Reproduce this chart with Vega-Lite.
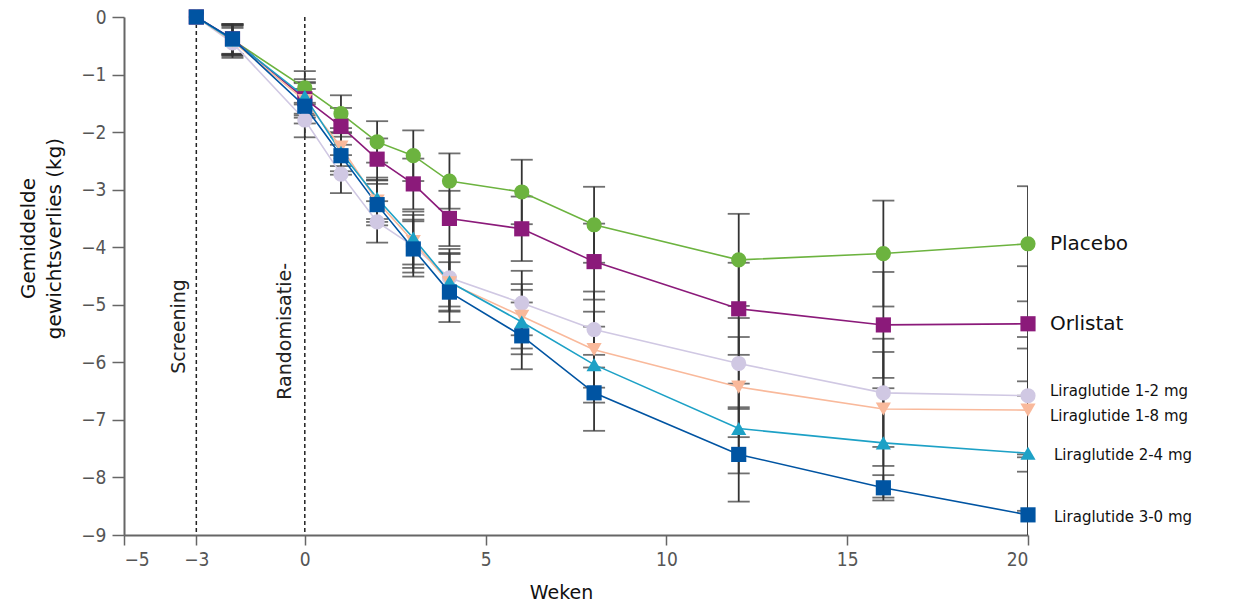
{
  "$schema": "https://vega.github.io/schema/vega-lite/v6.json",
  "autosize": "none",
  "width": 904,
  "height": 518,
  "padding": {"left": 124, "top": 17, "right": 218, "bottom": 71},
  "background": "white",
  "config": {
    "view": {"stroke": null},
    "font": "DejaVu Sans"
  },
  "datasets": {
    "main": [
      {"series": "Placebo", "week": -3, "value": 0, "err": 0},
      {"series": "Placebo", "week": -2, "value": -0.40, "err": 0.26},
      {"series": "Placebo", "week": 0, "value": -1.23, "err": 0.29},
      {"series": "Placebo", "week": 1, "value": -1.68, "err": 0.32},
      {"series": "Placebo", "week": 2, "value": -2.17, "err": 0.36},
      {"series": "Placebo", "week": 3, "value": -2.41, "err": 0.44},
      {"series": "Placebo", "week": 4, "value": -2.85, "err": 0.48},
      {"series": "Placebo", "week": 6, "value": -3.04, "err": 0.56},
      {"series": "Placebo", "week": 8, "value": -3.61, "err": 0.66},
      {"series": "Placebo", "week": 12, "value": -4.22, "err": 0.80},
      {"series": "Placebo", "week": 16, "value": -4.11, "err": 0.92},
      {"series": "Placebo", "week": 20, "value": -3.94, "err": 1.0},
      {"series": "Orlistat", "week": -3, "value": 0, "err": 0},
      {"series": "Orlistat", "week": -2, "value": -0.38, "err": 0.26},
      {"series": "Orlistat", "week": 0, "value": -1.42, "err": 0.29},
      {"series": "Orlistat", "week": 1, "value": -1.90, "err": 0.32},
      {"series": "Orlistat", "week": 2, "value": -2.47, "err": 0.36},
      {"series": "Orlistat", "week": 3, "value": -2.90, "err": 0.44},
      {"series": "Orlistat", "week": 4, "value": -3.50, "err": 0.48},
      {"series": "Orlistat", "week": 6, "value": -3.68, "err": 0.56},
      {"series": "Orlistat", "week": 8, "value": -4.25, "err": 0.66},
      {"series": "Orlistat", "week": 12, "value": -5.07, "err": 0.80},
      {"series": "Orlistat", "week": 16, "value": -5.35, "err": 0.92},
      {"series": "Orlistat", "week": 20, "value": -5.33, "err": 1.0},
      {"series": "Liraglutide 1-2 mg", "week": -3, "value": 0, "err": 0},
      {"series": "Liraglutide 1-2 mg", "week": -2, "value": -0.45, "err": 0.26},
      {"series": "Liraglutide 1-2 mg", "week": 0, "value": -1.79, "err": 0.30},
      {"series": "Liraglutide 1-2 mg", "week": 1, "value": -2.73, "err": 0.33},
      {"series": "Liraglutide 1-2 mg", "week": 2, "value": -3.56, "err": 0.36},
      {"series": "Liraglutide 1-2 mg", "week": 3, "value": -3.98, "err": 0.46},
      {"series": "Liraglutide 1-2 mg", "week": 4, "value": -4.53, "err": 0.50},
      {"series": "Liraglutide 1-2 mg", "week": 6, "value": -4.97, "err": 0.56},
      {"series": "Liraglutide 1-2 mg", "week": 8, "value": -5.43, "err": 0.66},
      {"series": "Liraglutide 1-2 mg", "week": 12, "value": -6.02, "err": 0.79},
      {"series": "Liraglutide 1-2 mg", "week": 16, "value": -6.53, "err": 0.94},
      {"series": "Liraglutide 1-2 mg", "week": 20, "value": -6.58, "err": 1.02},
      {"series": "Liraglutide 1-8 mg", "week": -3, "value": 0, "err": 0},
      {"series": "Liraglutide 1-8 mg", "week": -2, "value": -0.42, "err": 0.26},
      {"series": "Liraglutide 1-8 mg", "week": 0, "value": -1.45, "err": 0.30},
      {"series": "Liraglutide 1-8 mg", "week": 1, "value": -2.26, "err": 0.33},
      {"series": "Liraglutide 1-8 mg", "week": 2, "value": -3.20, "err": 0.36},
      {"series": "Liraglutide 1-8 mg", "week": 3, "value": -3.90, "err": 0.46},
      {"series": "Liraglutide 1-8 mg", "week": 4, "value": -4.62, "err": 0.50},
      {"series": "Liraglutide 1-8 mg", "week": 6, "value": -5.20, "err": 0.56},
      {"series": "Liraglutide 1-8 mg", "week": 8, "value": -5.78, "err": 0.66},
      {"series": "Liraglutide 1-8 mg", "week": 12, "value": -6.43, "err": 0.87},
      {"series": "Liraglutide 1-8 mg", "week": 16, "value": -6.81, "err": 0.99},
      {"series": "Liraglutide 1-8 mg", "week": 20, "value": -6.83, "err": 1.07},
      {"series": "Liraglutide 2-4 mg", "week": -3, "value": 0, "err": 0},
      {"series": "Liraglutide 2-4 mg", "week": -2, "value": -0.40, "err": 0.26},
      {"series": "Liraglutide 2-4 mg", "week": 0, "value": -1.38, "err": 0.30},
      {"series": "Liraglutide 2-4 mg", "week": 1, "value": -2.35, "err": 0.33},
      {"series": "Liraglutide 2-4 mg", "week": 2, "value": -3.15, "err": 0.36},
      {"series": "Liraglutide 2-4 mg", "week": 3, "value": -3.84, "err": 0.46},
      {"series": "Liraglutide 2-4 mg", "week": 4, "value": -4.60, "err": 0.50},
      {"series": "Liraglutide 2-4 mg", "week": 6, "value": -5.30, "err": 0.56},
      {"series": "Liraglutide 2-4 mg", "week": 8, "value": -6.04, "err": 0.66},
      {"series": "Liraglutide 2-4 mg", "week": 12, "value": -7.15, "err": 0.78},
      {"series": "Liraglutide 2-4 mg", "week": 16, "value": -7.40, "err": 0.95},
      {"series": "Liraglutide 2-4 mg", "week": 20, "value": -7.58, "err": 1.0},
      {"series": "Liraglutide 3-0 mg", "week": -3, "value": 0, "err": 0},
      {"series": "Liraglutide 3-0 mg", "week": -2, "value": -0.38, "err": 0.26},
      {"series": "Liraglutide 3-0 mg", "week": 0, "value": -1.55, "err": 0.30},
      {"series": "Liraglutide 3-0 mg", "week": 1, "value": -2.41, "err": 0.33},
      {"series": "Liraglutide 3-0 mg", "week": 2, "value": -3.26, "err": 0.36},
      {"series": "Liraglutide 3-0 mg", "week": 3, "value": -4.03, "err": 0.48},
      {"series": "Liraglutide 3-0 mg", "week": 4, "value": -4.78, "err": 0.52},
      {"series": "Liraglutide 3-0 mg", "week": 6, "value": -5.54, "err": 0.58},
      {"series": "Liraglutide 3-0 mg", "week": 8, "value": -6.53, "err": 0.66},
      {"series": "Liraglutide 3-0 mg", "week": 12, "value": -7.60, "err": 0.82},
      {"series": "Liraglutide 3-0 mg", "week": 16, "value": -8.18, "err": 0.22},
      {"series": "Liraglutide 3-0 mg", "week": 20, "value": -8.65, "err": 1.0}
    ],
    "marks": [
      {"week": -3, "label": "Screening", "pos": -3.47, "yval": -6.2},
      {"week": 0, "label": "Randomisatie-", "pos": -0.55, "yval": -6.65}
    ]
  },
  "layer": [
    {
      "data": {"name": "marks"},
      "mark": {"type": "rule", "strokeDash": [4, 3], "color": "#222", "strokeWidth": 1.5},
      "encoding": {"x": {"field": "week", "type": "quantitative"}}
    },
    {
      "data": {"name": "marks"},
      "mark": {"type": "text", "angle": 270, "align": "left", "baseline": "middle", "fontSize": 19, "color": "#222"},
      "encoding": {
        "x": {"field": "pos", "type": "quantitative"},
        "y": {"field": "yval", "type": "quantitative", "title": ["Gemiddelde", "gewichtsverlies (kg)"]},
        "text": {"field": "label"}
      }
    },
    {
      "data": {"name": "main"},
      "transform": [{"filter": "datum.err > 0"}],
      "mark": {"type": "errorbar", "clip": true, "color": "#333", "thickness": 1.8, "ticks": {"size": 22, "thickness": 1.8, "color": "#333"}},
      "encoding": {
        "x": {"field": "week", "type": "quantitative", "title": "Weken"},
        "y": {"field": "value", "type": "quantitative", "title": ["Gemiddelde", "gewichtsverlies (kg)"]},
        "yError": {"field": "err"}
      }
    },
    {
      "data": {"name": "main"},
      "mark": {"type": "line", "strokeWidth": 1.6},
      "encoding": {
        "x": {"field": "week", "type": "quantitative", "title": "Weken"},
        "y": {"field": "value", "type": "quantitative", "title": ["Gemiddelde", "gewichtsverlies (kg)"]},
        "color": {"field": "series", "type": "nominal", "legend": null,
          "scale": {"domain": ["Placebo", "Orlistat", "Liraglutide 1-2 mg", "Liraglutide 1-8 mg", "Liraglutide 2-4 mg", "Liraglutide 3-0 mg"],
                    "range": ["#6cb33f", "#8b1a7a", "#d0c8e3", "#f9b99b", "#1da1c6", "#0054a2"]}}
      }
    },
    {
      "data": {"name": "main"},
      "mark": {"type": "point", "filled": true, "opacity": 1, "size": 230},
      "encoding": {
        "x": {"field": "week", "type": "quantitative",
          "scale": {"domain": [-5, 20], "nice": false, "zero": false},
          "axis": {"values": [-5, -3, 0, 5, 10, 15, 20], "title": "Weken", "grid": false,
            "domainColor": "#666", "domainWidth": 2, "tickColor": "#666", "tickWidth": 1.5, "tickSize": 10,
            "labelFontSize": 19, "labelColor": "#555", "labelPadding": 5, "labelFont": "DejaVu Sans Condensed, DejaVu Sans",
            "titleFontSize": 19, "titleFontWeight": "normal", "titleColor": "#111", "titleX": 437, "titleY": 48, "titleFont": "DejaVu Sans"}},
        "y": {"field": "value", "type": "quantitative",
          "scale": {"domain": [-9, 0], "nice": false, "zero": false},
          "axis": {"values": [0, -1, -2, -3, -4, -5, -6, -7, -8, -9], "format": "d", "title": ["Gemiddelde", "gewichtsverlies (kg)"], "grid": false,
            "domainColor": "#666", "domainWidth": 2, "tickColor": "#666", "tickWidth": 1.5, "tickSize": 12,
            "labelFontSize": 19, "labelColor": "#555", "labelPadding": 6, "labelFont": "DejaVu Sans Condensed, DejaVu Sans",
            "titleFontSize": 20, "titleFontWeight": "normal", "titleColor": "#111", "titleLineHeight": 26,
            "titleX": -86, "titleY": 221, "titleFont": "DejaVu Sans"}},
        "color": {"field": "series", "type": "nominal", "legend": null},
        "shape": {"field": "series", "type": "nominal", "legend": null,
          "scale": {"domain": ["Placebo", "Orlistat", "Liraglutide 1-2 mg", "Liraglutide 1-8 mg", "Liraglutide 2-4 mg", "Liraglutide 3-0 mg"],
                    "range": ["circle", "square", "circle", "triangle-down", "triangle-up", "square"]}}
      }
    },
    {
      "data": {"name": "main"},
      "transform": [{"filter": "datum.week == 20 && (datum.series == 'Placebo' || datum.series == 'Orlistat')"}],
      "mark": {"type": "text", "align": "left", "baseline": "middle", "dx": 22, "fontSize": 20, "color": "#111"},
      "encoding": {
        "x": {"field": "week", "type": "quantitative"},
        "y": {"field": "value", "type": "quantitative"},
        "text": {"field": "series"}
      }
    },
    {
      "data": {"name": "main"},
      "transform": [{"filter": "datum.week == 20 && datum.series == 'Liraglutide 1-2 mg'"}],
      "mark": {"type": "text", "align": "left", "baseline": "middle", "dx": 22, "dy": -5, "fontSize": 15, "color": "#111"},
      "encoding": {
        "x": {"field": "week", "type": "quantitative"},
        "y": {"field": "value", "type": "quantitative"},
        "text": {"field": "series"}
      }
    },
    {
      "data": {"name": "main"},
      "transform": [{"filter": "datum.week == 20 && datum.series == 'Liraglutide 1-8 mg'"}],
      "mark": {"type": "text", "align": "left", "baseline": "middle", "dx": 22, "dy": 6, "fontSize": 15, "color": "#111"},
      "encoding": {
        "x": {"field": "week", "type": "quantitative"},
        "y": {"field": "value", "type": "quantitative"},
        "text": {"field": "series"}
      }
    },
    {
      "data": {"name": "main"},
      "transform": [{"filter": "datum.week == 20 && (datum.series == 'Liraglutide 2-4 mg' || datum.series == 'Liraglutide 3-0 mg')"}],
      "mark": {"type": "text", "align": "left", "baseline": "middle", "dx": 26, "dy": 2, "fontSize": 15, "color": "#111"},
      "encoding": {
        "x": {"field": "week", "type": "quantitative"},
        "y": {"field": "value", "type": "quantitative"},
        "text": {"field": "series"}
      }
    }
  ]
}
